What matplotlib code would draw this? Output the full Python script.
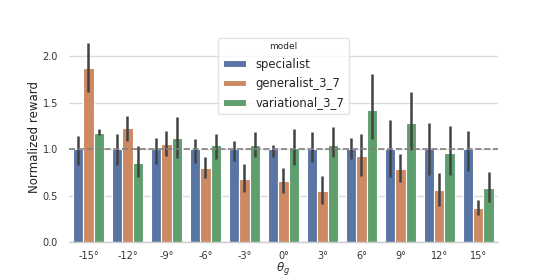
import numpy as np
import matplotlib
matplotlib.use("Agg")
import matplotlib.pyplot as plt
import seaborn as sns

sns.set_theme(style="whitegrid")
plt.rcParams['font.family'] = ['DejaVu Sans']

categories = ["-15°", "-12°", "-9°", "-6°", "-3°", "0°", "3°", "6°", "9°", "12°", "15°"]
models = ["specialist", "generalist_3_7", "variational_3_7"]
colors = ["#5875A4", "#CC8963", "#5F9E6D"]

specialist_mean = [1.0, 1.0, 1.0, 1.0, 1.0, 1.0, 1.0, 1.0, 1.0, 1.0, 1.0]
specialist_low = [0.83, 0.83, 0.84, 0.85, 0.875, 0.92, 0.86, 0.89, 0.70, 0.72, 0.77]
specialist_high = [1.14, 1.165, 1.12, 1.115, 1.09, 1.05, 1.19, 1.12, 1.32, 1.28, 1.20]

generalist_mean = [1.88, 1.225, 1.06, 0.80, 0.68, 0.655, 0.55, 0.93, 0.79, 0.555, 0.365]
generalist_low = [1.62, 1.09, 0.925, 0.685, 0.54, 0.53, 0.41, 0.71, 0.645, 0.385, 0.295]
generalist_high = [2.15, 1.36, 1.195, 0.915, 0.84, 0.80, 0.71, 1.16, 0.945, 0.74, 0.455]

variational_mean = [1.18, 0.85, 1.125, 1.04, 1.05, 1.01, 1.04, 1.42, 1.285, 0.955, 0.58]
variational_low = [1.155, 0.70, 0.905, 0.89, 0.915, 0.825, 0.92, 1.105, 0.995, 0.725, 0.435]
variational_high = [1.22, 1.03, 1.35, 1.16, 1.19, 1.22, 1.24, 1.81, 1.615, 1.245, 0.75]

means = [specialist_mean, generalist_mean, variational_mean]
lows = [specialist_low, generalist_low, variational_low]
highs = [specialist_high, generalist_high, variational_high]

fig = plt.figure(figsize=(5.54, 2.77), dpi=100)
ax = fig.add_axes([0.1245, 0.1264, 0.774, 0.757])

x = np.arange(len(categories))
n = len(models)
w = 0.8 / n
for i, (m, lo, hi, c, name) in enumerate(zip(means, lows, highs, colors, models)):
    pos = x - 0.4 + w * (i + 0.5)
    ax.bar(pos, m, width=w, color=c, edgecolor="white", linewidth=0.8, label=name, zorder=2)
    ax.vlines(pos, lo, hi, color="#424242", linewidth=1.8, zorder=3)

ax.axhline(1.0, color="#808080", linestyle="--", linewidth=1.2, zorder=4)

ax.set_xlim(-0.5, len(categories) - 0.5)
ax.set_ylim(0, 2.26)
ax.set_xticks(x)
ax.set_xticklabels(categories)
ax.set_yticks([0.0, 0.5, 1.0, 1.5, 2.0])
ax.set_yticklabels(["0.0", "0.5", "1.0", "1.5", "2.0"])
ax.tick_params(axis="both", labelsize=7, length=0, colors="#333333")
ax.tick_params(axis="x", pad=6.5)
ax.tick_params(axis="y", pad=8)
ax.grid(axis="x", visible=False)
ax.grid(axis="y", color="#DCDCDC", linewidth=1.0)
ax.set_axisbelow(True)
for s in ["left", "top", "right"]:
    ax.spines[s].set_visible(False)
ax.spines["bottom"].set_color("#CCCCCC")
ax.spines["bottom"].set_linewidth(1.0)

ax.set_ylabel("Normalized reward", fontsize=8.5, color="#222222", labelpad=1)
ax.set_xlabel(r"$\theta_g$", fontsize=8.5, color="#333333", labelpad=-0.5)

leg = ax.legend(title="model", loc="upper center", fontsize=8.4, title_fontsize=6.5,
                frameon=True, borderaxespad=0.45, handlelength=2.0, handleheight=0.5,
                labelspacing=0.55)
leg.get_frame().set_edgecolor("#DDDDDD")

fig.savefig("out.png", dpi=100)
